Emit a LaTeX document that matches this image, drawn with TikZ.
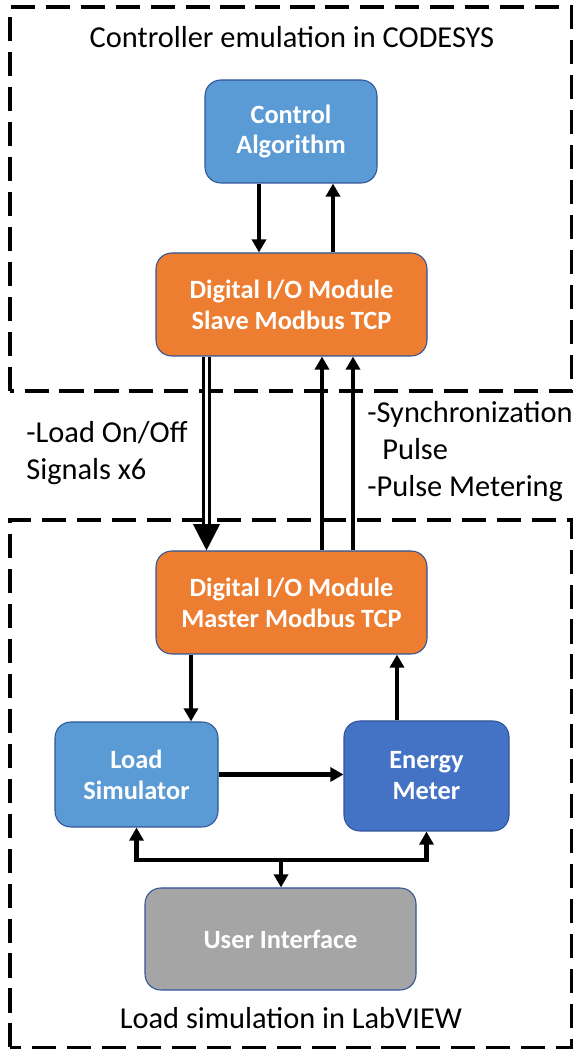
\documentclass[tikz,border=0pt]{standalone}
\usepackage{fontspec}
\setmainfont{Carlito}
\usetikzlibrary{positioning,arrows.meta}
\definecolor{ctrlblue}{RGB}{91,155,213}
\definecolor{meterblue}{RGB}{68,114,196}
\definecolor{modorange}{RGB}{237,125,49}
\definecolor{uigray}{RGB}{165,165,165}
\definecolor{edgeblue}{RGB}{47,85,151}
\tikzset{
  blk/.style={draw=edgeblue,line width=0.6pt,rounded corners=9pt,inner sep=0pt,
              text=white,align=center,font=\fontsize{15}{17.6}\selectfont\bfseries},
  algo/.style={blk,fill=ctrlblue,minimum width=3.44cm,minimum height=2.06cm},
  iomod/.style={blk,fill=modorange,minimum width=5.42cm,minimum height=2.06cm},
  sim/.style={blk,fill=ctrlblue,minimum width=3.26cm,minimum height=2.1cm},
  meter/.style={blk,fill=meterblue,minimum width=3.3cm,minimum height=2.2cm},
  ui/.style={blk,fill=uigray,minimum width=5.42cm,minimum height=2.04cm},
  frame/.style={line width=1.9pt,dash pattern=on 13.7pt off 6.2pt},
  zonelab/.style={font=\fontsize{17.3}{21}\selectfont,inner sep=0pt},
  siglab/.style={zonelab,align=left,anchor=west},
  flow/.style={line width=2.3pt,-{Triangle[width=8pt,length=7.5pt]}},
  bus/.style={line width=2.3pt,{Triangle[width=8pt,length=7.5pt]}-{Triangle[width=8pt,length=7.5pt]}},
  bundle/.style={line width=1.5pt,double,double distance=2pt,-{Triangle[width=15pt,length=15pt]}}
}
\begin{document}
\begin{tikzpicture}[x=1cm,y=1cm]
    \useasboundingbox (0,0) rectangle (11.46,21);
    % the two zones
    \draw[frame] (0.2,13.18) rectangle (11.44,20.86);
    \draw[frame] (0.2,0.05) rectangle (11.44,10.6);
    \node[zonelab] (ctrltitle) at (5.84,20.26) {Controller emulation in CODESYS};
    \node[zonelab] (labtitle) at (5.82,0.64) {Load simulation in LabVIEW};
    % blocks
    \node[algo] (CA) at (5.82,18.37) {Control\\Algorithm};
    \node[iomod] (SL) at (5.83,14.91) {Digital I/O Module\\Slave Modbus TCP};
    \node[iomod] (MA) at (5.83,8.95) {Digital I/O Module\\Master Modbus TCP};
    \node[sim] (LS) at (2.73,5.51) {Load\\Simulator};
    \node[meter] (EM) at (8.53,5.48) {Energy\\Meter};
    \node[ui] (UI) at (5.61,2.22) {User Interface};
    \coordinate (hub) at (5.62,3.8);
    % signal labels
    \node[siglab] (onoff) at (0.52,11.93) {-Load On/Off\\Signals x6};
    \node[siglab] (pulse) at (7.34,11.97) {-Synchronization\\\hspace{0.3cm}Pulse\\-Pulse Metering};
    % connectors
    \draw[flow] ([xshift=-0.64cm]CA.south) -- ([xshift=-0.64cm]CA.south |- SL.north);
    \draw[flow] ([xshift=0.84cm]CA.south |- SL.north) -- ([xshift=0.84cm]CA.south);
    \draw[bundle] ([xshift=-1.7cm]SL.south) -- ([xshift=-1.7cm]SL.south |- MA.north);
    \draw[flow] ([xshift=0.61cm]MA.north) -- ([xshift=0.61cm]MA.north |- SL.south);
    \draw[flow] ([xshift=1.23cm]MA.north) -- ([xshift=1.23cm]MA.north |- SL.south);
    \draw[flow] ([xshift=-2.01cm]MA.south) -- ([xshift=-2.01cm]MA.south |- LS.north);
    \draw[flow] ([xshift=-0.59cm]EM.north) -- ([xshift=-0.59cm]EM.north |- MA.south);
    \draw[flow] (LS.east) -- (LS.east -| EM.west);
    \draw[bus] (LS.south) |- (hub) -| (EM.south);
    \draw[flow] (hub) -- (hub |- UI.north);
  \end{tikzpicture}
\end{document}
